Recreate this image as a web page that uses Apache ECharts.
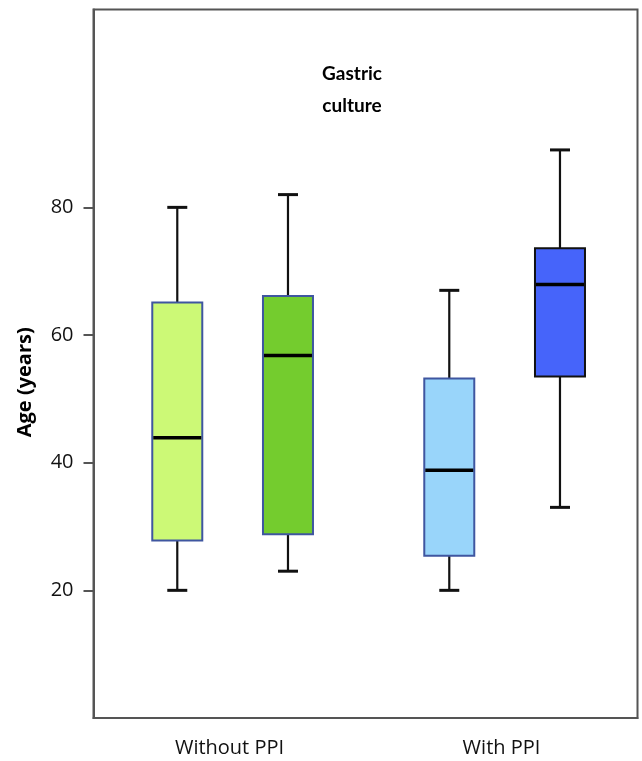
<!DOCTYPE html>
<html>
<head>
<meta charset="utf-8">
<script src="https://cdn.jsdelivr.net/npm/echarts@6/dist/echarts.min.js"></script>
<style>
html,body{margin:0;padding:0;background:#fff;}
#chart{width:642px;height:761px;}
</style>
</head>
<body>
<div id="chart"></div>
<script>
// ---- data ----
const categories = ['Without PPI', 'With PPI'];
// [low whisker, Q1, median, Q3, high whisker]
const firstBoxes  = [[20, 27.8, 43.9, 65.1, 80], [20, 25.4, 38.8, 53.2, 67]];
const secondBoxes = [[23, 28.8, 56.8, 66.1, 82], [33, 53.5, 67.9, 73.6, 89]];
const yTickValues = [20, 40, 60, 80];
const yAxisName = 'Age (years)';
const chartTitle = 'Gastric\nculture';

// ---- styles ----
const firstFills = ['#ccf976', '#99d5fa'];
const secondFills = ['#74cc2e', '#4664fa'];
const firstBorders = ['#3f56a0', '#3f56a0'];
const secondBorders = ['#3f56a0', '#111111'];

function makeRender(offsetFrac, fills, borders) {
  return function (params, api) {
    const cat = api.value(0);
    const band = api.size([1, 0])[0];
    const cx = api.coord([cat, 0])[0] + band * offsetFrac;
    const y = (i) => api.coord([cat, api.value(i)])[1];
    const yLow = y(1), yQ1 = y(2), yMed = y(3), yQ3 = y(4), yHigh = y(5);
    const bw = 50, cap = 10;
    const idx = params.dataIndex;
    const lineStyle = { stroke: '#111', lineWidth: 2.2 };
    return {
      type: 'group',
      children: [
        { type: 'line', shape: { x1: cx, y1: yHigh, x2: cx, y2: yQ3 }, style: lineStyle },
        { type: 'line', shape: { x1: cx, y1: yQ1, x2: cx, y2: yLow }, style: lineStyle },
        { type: 'line', shape: { x1: cx - cap, y1: yHigh, x2: cx + cap, y2: yHigh }, style: { stroke: '#111', lineWidth: 3 } },
        { type: 'line', shape: { x1: cx - cap, y1: yLow, x2: cx + cap, y2: yLow }, style: { stroke: '#111', lineWidth: 3 } },
        { type: 'rect', shape: { x: cx - bw / 2, y: yQ3, width: bw, height: yQ1 - yQ3 },
          style: { fill: fills[idx], stroke: borders[idx], lineWidth: 2 } },
        { type: 'line', shape: { x1: cx - bw / 2 + 1, y1: yMed, x2: cx + bw / 2 - 1, y2: yMed },
          style: { stroke: '#000', lineWidth: 3.5 } }
      ]
    };
  };
}

const chart = echarts.init(document.getElementById('chart'), null, { renderer: 'canvas' });
chart.setOption({
  animation: false,
  backgroundColor: '#fff',
  title: {
    text: chartTitle,
    left: 347,
    top: 53,
    textAlign: 'center',
    textStyle: { fontFamily: 'Lato', fontWeight: 'bold', fontSize: 19, lineHeight: 32, color: '#000' }
  },
  grid: {
    left: 93.5, right: 4.5, top: 9.5, bottom: 43,
    show: true, borderColor: '#555', borderWidth: 2, backgroundColor: 'transparent'
  },
  xAxis: {
    type: 'category',
    data: categories,
    axisLine: { lineStyle: { color: '#555', width: 2 } },
    axisTick: { alignWithLabel: true, length: 11, lineStyle: { color: '#555', width: 2 } },
    axisLabel: { fontFamily: 'Open Sans', fontSize: 20, color: '#111', margin: 20 },
    splitLine: { show: false }
  },
  yAxis: {
    type: 'value',
    min: 0, max: 111, interval: 20,
    name: yAxisName,
    nameLocation: 'middle',
    nameRotate: 90,
    nameGap: 58,
    nameTextStyle: { fontFamily: 'Open Sans', fontWeight: 'bold', fontSize: 20, color: '#000', padding: [0, 37, 0, 0] },
    axisLine: { show: true, lineStyle: { color: '#555', width: 2 } },
    axisTick: { show: true, length: 10, customValues: yTickValues, lineStyle: { color: '#555', width: 2 } },
    axisLabel: { customValues: yTickValues, fontFamily: 'Open Sans', fontSize: 20, color: '#111', margin: 20 },
    splitLine: { show: false }
  },
  series: [
    {
      type: 'custom',
      renderItem: makeRender(-0.192, firstFills, firstBorders),
      encode: { x: 0, y: [1, 2, 3, 4, 5] },
      data: firstBoxes.map((v, i) => [i].concat(v))
    },
    {
      type: 'custom',
      renderItem: makeRender(0.215, secondFills, secondBorders),
      encode: { x: 0, y: [1, 2, 3, 4, 5] },
      data: secondBoxes.map((v, i) => [i].concat(v))
    }
  ]
});
</script>
</body>
</html>
